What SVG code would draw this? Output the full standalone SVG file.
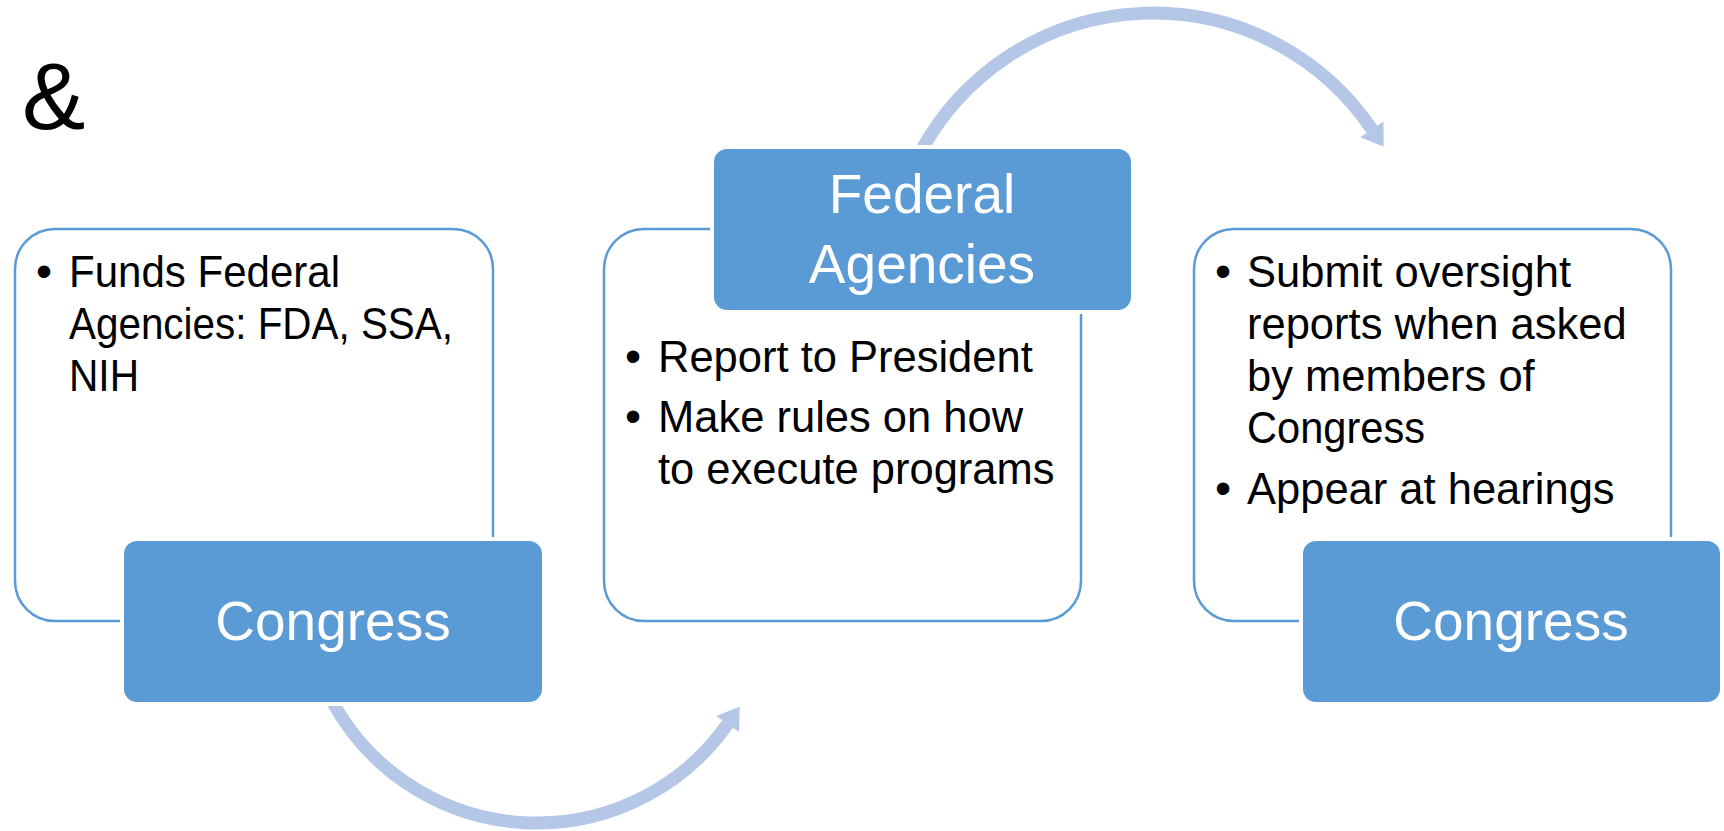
<svg xmlns="http://www.w3.org/2000/svg" width="1724" height="831" viewBox="0 0 1724 831">
<defs>
<style>
.panel{fill:#ffffff;stroke:#5B9BD5;stroke-width:2.5}
.title{fill:#5B9BD5;stroke:#ffffff;stroke-width:4}
.ttext{font-family:"Liberation Sans",Arial,sans-serif;font-size:55px;fill:#ffffff;text-anchor:middle}
.body{font-family:"Liberation Sans",Arial,sans-serif;font-size:43.5px;fill:#000000}
.bul{font-family:"Liberation Sans",Arial,sans-serif;font-size:46px;fill:#000000;text-anchor:middle}
.arc{fill:none;stroke:#B4C7E7;stroke-width:13;marker-end:url(#head)}
</style>
<marker id="head" markerUnits="userSpaceOnUse" viewBox="-1 -15 24 30" refX="0" refY="0" markerWidth="24" markerHeight="30" orient="auto">
<path d="M0,-14 L21,0 L0,14 Z" fill="#B4C7E7"/>
</marker>
</defs>
<rect width="1724" height="831" fill="#ffffff"/>
<text x="22" y="129" font-family="Liberation Sans,Arial,sans-serif" font-size="95" fill="#000000">&amp;</text>
<g id="connectors">
<path class="arc" d="M332.6,702 A233,233 0 0 0 727.6,724"/>
<path class="arc" d="M921.7,150 A264,264 0 0 1 1371.9,129.4"/>
</g>
<g id="node-left">
<rect class="panel" x="15" y="229" width="478" height="392" rx="40" ry="40"/>
<text class="bul" x="44" y="287">•</text>
<text class="body" x="69" y="287" textLength="271" lengthAdjust="spacingAndGlyphs">Funds Federal</text>
<text class="body" x="69" y="339" textLength="384" lengthAdjust="spacingAndGlyphs">Agencies: FDA, SSA,</text>
<text class="body" x="69" y="391" textLength="70" lengthAdjust="spacingAndGlyphs">NIH</text>
</g>
<g id="node-congress-1">
<rect class="title" x="122" y="539" width="422" height="165" rx="15" ry="15"/>
<text class="ttext" x="333" y="640">Congress</text>
</g>
<g id="node-middle">
<rect class="panel" x="604" y="229" width="477" height="392" rx="40" ry="40"/>
<text class="bul" x="633" y="372">•</text>
<text class="body" x="658" y="372">Report to President</text>
<text class="bul" x="633" y="432">•</text>
<text class="body" x="658" y="432">Make rules on how</text>
<text class="body" x="658" y="484">to execute programs</text>
</g>
<g id="node-federal">
<rect class="title" x="712" y="147" width="421" height="165" rx="15" ry="15"/>
<text class="ttext" x="922" y="213">Federal</text>
<text class="ttext" x="922" y="283">Agencies</text>
</g>
<g id="node-right">
<rect class="panel" x="1194" y="229" width="477" height="392" rx="40" ry="40"/>
<text class="bul" x="1223" y="287">•</text>
<text class="body" x="1247" y="287">Submit oversight</text>
<text class="body" x="1247" y="339">reports when asked</text>
<text class="body" x="1247" y="391">by members of</text>
<text class="body" x="1247" y="443" textLength="178" lengthAdjust="spacingAndGlyphs">Congress</text>
<text class="bul" x="1223" y="504">•</text>
<text class="body" x="1247" y="504">Appear at hearings</text>
</g>
<g id="node-congress-2">
<rect class="title" x="1301" y="539" width="421" height="165" rx="15" ry="15"/>
<text class="ttext" x="1511" y="640">Congress</text>
</g>
</svg>
